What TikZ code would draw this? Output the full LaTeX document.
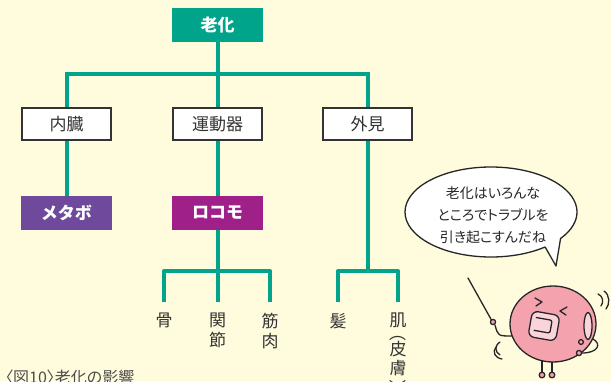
\documentclass[tikz,border=0pt]{standalone}
\usepackage{fontspec}
\setmainfont{Noto Sans CJK JP}
\newfontfamily\paltfont[RawFeature=+palt]{Noto Sans CJK JP}
\definecolor{cream}{RGB}{255,251,221}
\definecolor{teal}{RGB}{0,164,138}
\definecolor{metabo}{RGB}{111,74,156}
\definecolor{locomo}{RGB}{160,32,138}
\definecolor{boxline}{RGB}{51,51,51}
\definecolor{pinkbody}{RGB}{244,163,174}
\definecolor{pinklight}{RGB}{250,212,218}
\tikzset{
  branch/.style={draw=teal, line width=4pt},
  topbox/.style={fill=teal, text=white, font=\fontsize{17}{19}\selectfont\bfseries,
    minimum width=91pt, minimum height=34pt, inner sep=0pt},
  catbox/.style={draw=boxline, fill=white, line width=1.8pt, text=boxline,
    font=\fontsize{17}{19}\selectfont, minimum width=89pt, minimum height=32pt, inner sep=0pt},
  colbox/.style={text=white, font=\fontsize{17}{19}\selectfont\bfseries,
    minimum width=91pt, minimum height=34pt, inner sep=0pt},
  leaf/.style={anchor=north, align=center, inner sep=0pt, text=boxline,
    font=\fontsize{17}{20}\selectfont},
  glyph/.style={inner sep=0pt, text=boxline, font=\fontsize{17}{20}\selectfont},
  ink/.style={draw=black!85, line width=1.3pt, line cap=round, line join=round},
}
\begin{document}
\begin{tikzpicture}[x=1pt,y=-1pt]
\useasboundingbox (0,0) rectangle (611,381);
\clip (0,0) rectangle (611,381);
\fill[cream] (0,0) rectangle (611,381);

% top of the tree
\node[topbox] (roka) at (217.5,25) {老化};
\coordinate (fork) at (217.5,74);
\node[catbox] (naizo) at (66.5,124) {内臓};
\node[catbox] (undoki) at (217.5,124) {運動器};
\node[catbox] (gaiken) at (367.5,124) {外見};

\draw[branch] (roka) -- (fork);
\draw[branch] (fork) -| (naizo);
\draw[branch] (fork) -- (undoki);
\draw[branch] (fork) -| (gaiken);

% second level
\node[colbox, fill=metabo] (metabo) at (66.5,213) {メタボ};
\node[colbox, fill=locomo] (locomo) at (217.5,213) {ロコモ};
\draw[branch] (naizo) -- (metabo);
\draw[branch] (undoki) -- (locomo);

% leaves
\node[leaf] (hone) at (164,313) {骨};
\node[leaf] (kansetsu) at (217.5,313) {関\\節};
\node[leaf] (kinniku) at (270,313) {筋\\肉};
\node[leaf] (kami) at (338,313) {髪};
\node[leaf] (hada) at (398,313) {肌};
% vertical brackets: the horizontal ones turned a quarter
\node[glyph, rotate=-90] (hada1) at (398,333) {（};
\node[glyph] (hada2) at (398,349) {皮};
\node[glyph] (hada3) at (398,368) {膚};
\node[glyph, rotate=-90] (hada4) at (398,388) {）};

\coordinate (fork2) at (217.5,271);
\coordinate (fork3) at (367.5,271);
\draw[branch] (locomo) -- (fork2);
\draw[branch] (gaiken) -- (fork3);
\draw[branch, line join=round] (fork2) -| ([yshift=11pt]hone.north);
\draw[branch] (fork2) -- ([yshift=11pt]kansetsu.north);
\draw[branch, line join=round] (fork2) -| ([yshift=11pt]kinniku.north);
\draw[branch, line join=round] (fork3) -| ([yshift=11pt]kami.north);
\draw[branch, line join=round] (fork3) -| ([yshift=11pt]hada.north);

% caption
\node[anchor=west, inner sep=0pt, text=black!70, font=\paltfont\fontsize{16}{17}\selectfont]
  (caption) at (5,377) {〈図10〉老化の影響};

% speech bubble
\coordinate (bubble) at (491,212);
\draw[ink, fill=white] (bubble) ++(51:86 and 45)
  arc[start angle=51, end angle=396, x radius=86, y radius=45] -- (556,266) -- cycle;
\node[align=center, inner sep=0pt, text=black!85, font=\paltfont\fontsize{14}{22}\selectfont]
  (talk) at (493,215) {老化はいろんな\\ところでトラブルを\\引き起こすんだね};

% character
\draw[ink] (468,278) -- (492,321);
\draw[ink] (495,325) .. controls (498,336) .. (512,336);
\draw[ink, fill=pinkbody] (493,322) circle (2.6);
\draw[ink] (542,358) -- (542,372);
\draw[ink] (552,358) -- (552,372);
\draw[ink, fill=pinkbody] (542,375) circle (2.8);
\draw[ink, fill=pinkbody] (552,375) circle (2.8);
\draw[ink, fill=pinkbody] (553,324) ellipse [x radius=43, y radius=38];
% face
\draw[ink] (535,298) -- (542,302) -- (536,306);
\draw[ink] (567,307) -- (560,311) -- (566,315);
\draw[ink, fill=pinklight, rounded corners=6pt, rotate around={-10:(544,326)}]
  (530,313) rectangle (558,339);
\draw[ink, rounded corners=2pt, rotate around={-10:(544,326)}]
  (535,319) -- (551,319) -- (551,332) -- (535,332);
\draw[ink, fill=pinklight] (588,326) ellipse [x radius=4, y radius=13.5];
\draw[ink] (593,339) .. controls (602,344) and (598,353) .. (582,353);
\draw[ink, fill=pinkbody] (581,342) circle (2.4);
\draw[ink, fill=pinkbody] (579,353) circle (2.6);
% wiggle marks
\draw[ink] (500,342) .. controls (494,346) and (495,352) .. (500,355);
\draw[ink] (496,347) .. controls (492,352) and (495,358) .. (502,359);
\draw[ink] (598,294) .. controls (603,296) and (604,302) .. (601,306);
\draw[ink] (604,291) .. controls (610,295) and (610,304) .. (606,309);
\end{tikzpicture}
\end{document}
